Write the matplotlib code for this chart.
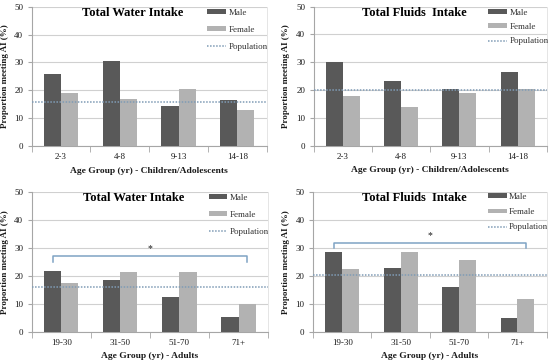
import matplotlib
matplotlib.use("Agg")
import matplotlib.pyplot as plt
from matplotlib.patches import Patch
from matplotlib.lines import Line2D
import numpy as np

plt.rcParams['font.family'] = ['Liberation Serif', 'DejaVu Serif']

cats_child = ['2-3', '4-8', '9-13', '14-18']
cats_adult = ['19-30', '31-50', '51-70', '71+']

water_child_male = [25.7, 30.7, 14.5, 16.7]
water_child_female = [19.2, 16.9, 20.6, 13.0]
water_child_pop = 16.0

fluids_child_male = [30.0, 23.3, 20.6, 26.7]
fluids_child_female = [18.0, 13.9, 18.9, 20.6]
fluids_child_pop = 20.2

water_adult_male = [21.8, 18.5, 12.4, 5.3]
water_adult_female = [17.6, 21.3, 21.3, 10.1]
water_adult_pop = 16.0
water_adult_bracket = (27.0, 25.0)

fluids_adult_male = [28.6, 22.7, 16.1, 5.0]
fluids_adult_female = [22.3, 28.6, 25.7, 11.8]
fluids_adult_pop = 20.3
fluids_adult_bracket = (31.8, 30.0)

yticks = [0, 10, 20, 30, 40, 50]

MALE = '#595959'
FEMALE = '#B2B2B2'
POP = '#7F9BB5'
BRACKET = '#7FA3C4'
GRID = '#D0D0D0'
AXC = '#A6A6A6'
TXT = '#1a1a1a'

fig = plt.figure(figsize=(5.5, 3.64), dpi=100)

panels = [
    dict(rect=[0.0573, 0.598, 0.4276, 0.384], title='Total Water Intake', cats=cats_child,
         male=water_child_male, female=water_child_female, pop=water_child_pop,
         xlabel='Age Group (yr) - Children/Adolescents', bracket=None, leg_y=0.985, spacing=1.0,
         ylab_x=-0.095),
    dict(rect=[0.570, 0.599, 0.4245, 0.383], title='Total Fluids  Intake', cats=cats_child,
         male=fluids_child_male, female=fluids_child_female, pop=fluids_child_pop,
         xlabel='Age Group (yr) - Children/Adolescents', bracket=None, leg_y=0.985, spacing=0.7,
         ylab_x=-0.1),
    dict(rect=[0.0575, 0.0879, 0.43, 0.386], title='Total Water Intake', cats=cats_adult,
         male=water_adult_male, female=water_adult_female, pop=water_adult_pop,
         xlabel='Age Group (yr) - Adults', bracket=water_adult_bracket, leg_y=0.985, spacing=1.0,
         ylab_x=-0.095),
    dict(rect=[0.569, 0.0879, 0.425, 0.386], title='Total Fluids  Intake', cats=cats_adult,
         male=fluids_adult_male, female=fluids_adult_female, pop=fluids_adult_pop,
         xlabel='Age Group (yr) - Adults', bracket=fluids_adult_bracket, leg_y=0.99, spacing=0.8,
         ylab_x=-0.1),
]

w = 0.29
for p in panels:
    ax = fig.add_axes(p['rect'])
    x = np.arange(len(p['cats']))
    ax.bar(x - w / 2, p['male'], width=w, color=MALE, zorder=3)
    ax.bar(x + w / 2, p['female'], width=w, color=FEMALE, zorder=3)
    ax.axhline(p['pop'], color=POP, linestyle=(0, (1, 1)), linewidth=1.1, zorder=4)
    ax.set_xlim(-0.5, len(p['cats']) - 0.5)
    ax.set_ylim(0, 50)
    ax.set_yticks(yticks)
    ax.yaxis.grid(True, color=GRID, linewidth=0.8, zorder=0)
    ax.set_axisbelow(True)
    ax.spines['top'].set_visible(False)
    ax.spines['right'].set_color('#E0E0E0')
    ax.spines['right'].set_linewidth(0.6)
    ax.spines['left'].set_color(AXC)
    ax.spines['bottom'].set_color(AXC)
    ax.spines['left'].set_linewidth(0.8)
    ax.spines['bottom'].set_linewidth(0.8)
    ax.set_xticks(x)
    ax.set_xticklabels(p['cats'])
    ax.set_xticks(np.arange(-0.5, len(p['cats']) + 0.5, 1), minor=True)
    ax.tick_params(axis='x', which='major', length=0, pad=5, labelsize=6.5, labelcolor=TXT)
    ax.tick_params(axis='x', which='minor', length=4, color=AXC, direction='out')
    ax.tick_params(axis='y', length=3, color=AXC, labelsize=6.5, labelcolor=TXT, pad=3)
    ax.set_xlabel(p['xlabel'], fontsize=6.8, fontweight='bold', color=TXT)
    ax.xaxis.set_label_coords(0.5, -0.145)
    ax.set_ylabel('Proportion meeting AI (%)', fontsize=6.5, fontweight='bold', color=TXT)
    ax.yaxis.set_label_coords(p['ylab_x'], 0.5)
    ax.text(0.432, 0.955, p['title'], transform=ax.transAxes, ha='center', va='center',
            fontsize=9, fontweight='bold', color='black')
    handles = [Patch(facecolor=MALE, edgecolor='none'),
               Patch(facecolor=FEMALE, edgecolor='none'),
               Line2D([0], [0], color=POP, linestyle=(0, (1, 1)), linewidth=1.1)]
    ax.legend(handles, ['Male', 'Female', 'Population'], loc='upper left',
              bbox_to_anchor=(0.748, p['leg_y']), frameon=False, fontsize=6.5,
              handlelength=2.1, handleheight=0.4, handletextpad=0.25,
              labelspacing=p['spacing'], borderpad=0, borderaxespad=0, labelcolor='#333333')
    if p['bracket'] is not None:
        top, bot = p['bracket']
        n = len(p['cats'])
        xl = 0 - w / 2
        xr = (n - 1) + w / 2
        ax.plot([xl, xl, xr, xr], [bot, top, top, bot], color=BRACKET, linewidth=1.1, zorder=5)
        ax.text((xl + xr) / 2, top + 1.0, '*', ha='center', va='bottom', fontsize=7, color=TXT)

fig.savefig('out.png', dpi=100)
